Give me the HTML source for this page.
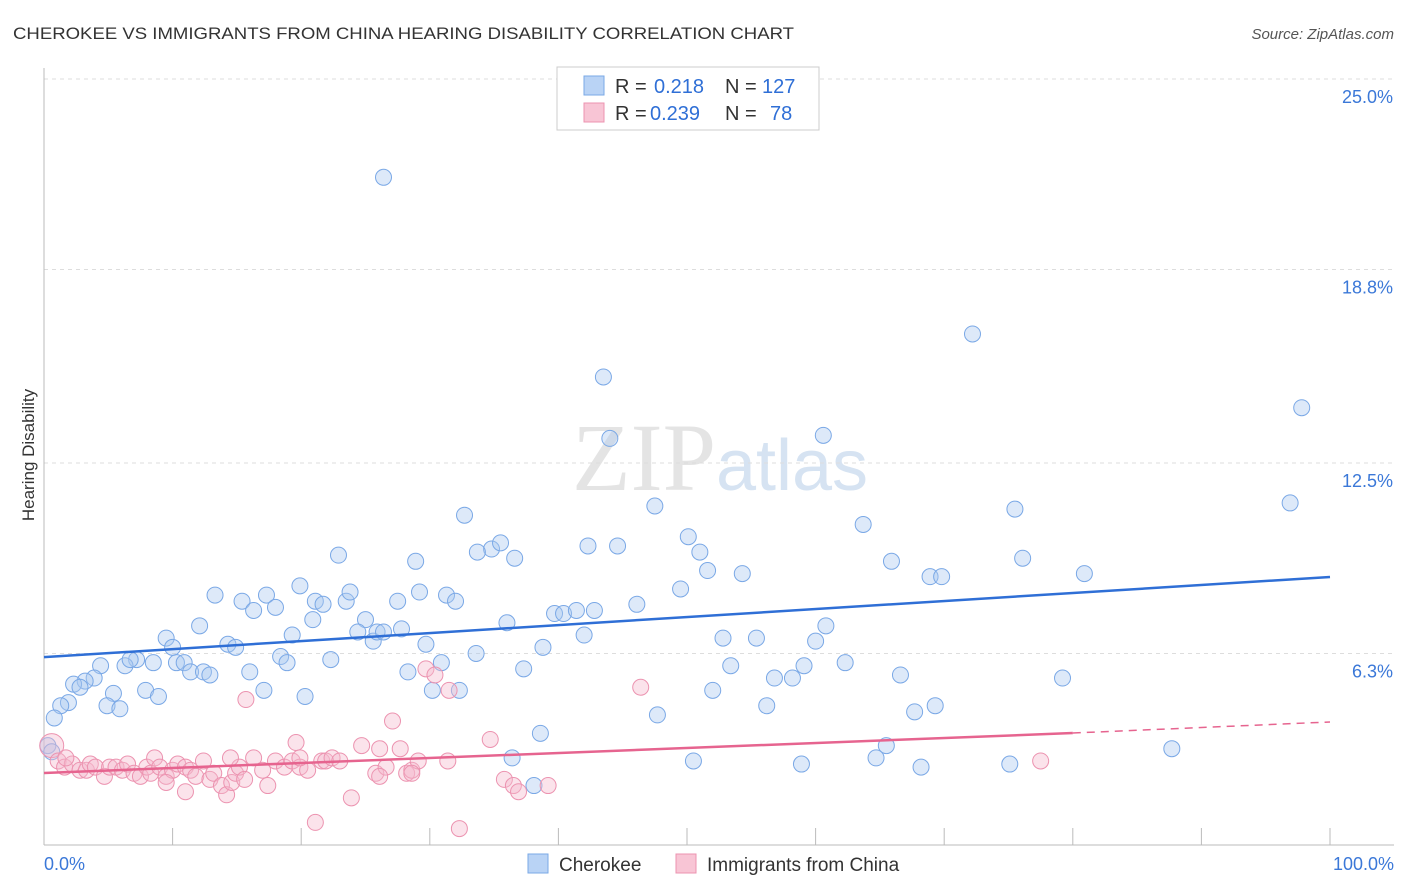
<!DOCTYPE html>
<html><head><meta charset="utf-8"><style>
body{margin:0;background:#fff;font-family:"Liberation Sans",sans-serif}
svg{display:block}
</style></head><body>
<svg id="chart" width="1406" height="892" viewBox="0 0 1406 892" xmlns="http://www.w3.org/2000/svg">
<text x="13" y="39" font-size="17" fill="#333" textLength="781" lengthAdjust="spacingAndGlyphs">CHEROKEE VS IMMIGRANTS FROM CHINA HEARING DISABILITY CORRELATION CHART</text>
<text x="1394" y="39" font-size="15" fill="#555" text-anchor="end" font-style="italic">Source: ZipAtlas.com</text>
<text x="720" y="490" font-size="96" fill="#e4e4e4" text-anchor="middle"><tspan font-family="Liberation Serif">ZIP</tspan><tspan fill="#d6e3f2" font-size="72">atlas</tspan></text>
<text transform="translate(34,455) rotate(-90)" font-size="17" fill="#333" text-anchor="middle">Hearing Disability</text>
<g id="grid"></g><g id="axes"></g><g id="pts"></g><g id="trends"></g>
<g>
<rect x="557" y="67" width="262" height="63" fill="#fff" stroke="#ccc"/>
<rect x="584" y="76" width="20" height="19" fill="#b9d3f5" stroke="#7aa8e6"/>
<text y="93" font-size="20" fill="#333"><tspan x="615">R =</tspan><tspan x="654" fill="#2f6fd6">0.218</tspan><tspan x="725">N =</tspan><tspan x="762" fill="#2f6fd6">127</tspan></text>
<rect x="584" y="103" width="20" height="19" fill="#f8c5d5" stroke="#ec93b0"/>
<text y="120" font-size="20" fill="#333"><tspan x="615">R =</tspan><tspan x="650" fill="#2f6fd6">0.239</tspan><tspan x="725">N =</tspan><tspan x="770" fill="#2f6fd6">78</tspan></text>
</g>
<g>
<rect x="528" y="854" width="20" height="19" fill="#b9d3f5" stroke="#7aa8e6"/>
<text x="559" y="871" font-size="19" fill="#333">Cherokee</text>
<rect x="676" y="854" width="20" height="19" fill="#f8c5d5" stroke="#ec93b0"/>
<text x="707" y="871" font-size="19" fill="#333">Immigrants from China</text>
</g>
</svg>
<script>
const yTicks=[25.0,18.8,12.5,6.3];
const yTickLabels=["25.0%","18.8%","12.5%","6.3%"];
const xTickLabels=["0.0%","100.0%"];
const blueX=[26.4,43.5,72.2,97.8,44,60.6,32.7,47.5,75.5,96.9,63.7,50.1,51,42.3,44.6,34.8,35.5,36.6,33.7,22.9,28.9,51.6,54.3,65.9,68.9,69.8,76.1,80.9,19.9,13.3,15.4,17.3,18,16.3,21.1,21.7,23.5,23.8,27.5,29.2,31.3,32,49.5,46.1,39.7,40.4,41.4,42.8,36,25,12.1,9.5,14.3,14.9,19.3,20.9,24.4,25.6,25.9,26.4,27.8,29.7,42,52.8,55.4,60,60.8,38.8,33.6,30.9,22.3,18.4,18.9,16,10.3,10,10.9,11.4,12.4,12.9,8.5,7.2,6.3,4.4,6.7,3.9,3.2,2.3,2.8,5.4,1.9,1.3,4.9,5.9,0.8,7.9,8.9,17.1,20.3,28.3,30.2,32.3,37.3,53.4,59.1,62.3,66.6,56.8,58.2,52,79.2,56.2,47.7,67.7,69.3,38.6,36.4,38.1,50.5,58.9,64.7,65.5,68.2,75.1,87.7,0.3,0.6];
const blueY=[21.8,15.3,16.7,14.3,13.3,13.4,10.8,11.1,11,11.2,10.5,10.1,9.6,9.8,9.8,9.7,9.9,9.4,9.6,9.5,9.3,9,8.9,9.3,8.8,8.8,9.4,8.9,8.5,8.2,8.0,8.2,7.8,7.7,8.0,7.9,8.0,8.3,8.0,8.3,8.2,8.0,8.4,7.9,7.6,7.6,7.7,7.7,7.3,7.4,7.2,6.8,6.6,6.5,6.9,7.4,7.0,6.7,7.0,7.0,7.1,6.6,6.9,6.8,6.8,6.7,7.2,6.5,6.3,6.0,6.1,6.2,6.0,5.7,6.0,6.5,6.0,5.7,5.7,5.6,6.0,6.1,5.9,5.9,6.1,5.5,5.4,5.3,5.2,5.0,4.7,4.6,4.6,4.5,4.2,5.1,4.9,5.1,4.9,5.7,5.1,5.1,5.8,5.9,5.9,6.0,5.6,5.5,5.5,5.1,5.5,4.6,4.3,4.4,4.6,3.7,2.9,2.0,2.8,2.7,2.9,3.3,2.6,2.7,3.2,3.3,3.1];
const pinkX=[0.6,1.1,1.6,2.2,2.8,3.3,3.6,4.0,4.7,5.1,5.6,6.1,6.5,7.0,7.5,8.0,8.3,8.6,9.0,9.5,10.0,10.4,11.0,11.4,11.0,11.8,12.4,12.9,13.2,13.8,14.2,14.6,14.9,15.2,15.7,16.3,17.0,17.4,18.0,18.7,19.3,19.6,19.9,20.5,21.1,21.6,21.9,22.4,23.0,23.9,24.7,25.8,26.1,26.6,27.1,27.7,28.2,28.6,29.1,29.7,30.4,31.4,31.5,32.3,34.7,35.8,36.5,36.9,39.2,46.4,77.5,19.9,14.5,9.5,1.7,28.6,15.6,26.1];
const pinkY=[3.3,2.8,2.6,2.7,2.5,2.5,2.7,2.6,2.3,2.6,2.6,2.5,2.7,2.4,2.3,2.6,2.4,2.9,2.6,2.3,2.5,2.7,2.6,2.5,1.8,2.3,2.8,2.2,2.4,2.0,1.7,2.1,2.4,2.6,4.8,2.9,2.5,2.0,2.8,2.6,2.8,3.4,2.6,2.5,0.8,2.8,2.8,2.9,2.8,1.6,3.3,2.4,3.2,2.6,4.1,3.2,2.4,2.5,2.8,5.8,5.6,2.8,5.1,0.6,3.5,2.2,2.0,1.8,2.0,5.2,2.8,2.9,2.9,2.1,2.9,2.4,2.2,2.3];
const blueTrend=[6.18,8.79];
const pinkTrend=[2.41,3.71,4.07];
const NS="http://www.w3.org/2000/svg";
const X0=44,X1=1330,Y0=847,PX=30.72;
function sx(v){return X0+(X1-X0)*v/100;}
function sy(v){return Y0-v*PX;}
function mk(tag,attrs,parent){const e=document.createElementNS(NS,tag);for(const k in attrs)e.setAttribute(k,attrs[k]);parent.appendChild(e);return e;}
const grid=document.getElementById('grid'),axes=document.getElementById('axes'),pts=document.getElementById('pts'),tr=document.getElementById('trends');
yTicks.forEach((t,i)=>{
 const l=mk('line',{x1:44,x2:1394,y1:sy(t),y2:sy(t),stroke:'#ddd','stroke-dasharray':'4,4'},grid);
 
 
 const tx=mk('text',{x:1393,y:sy(t)+24,'font-size':18,fill:'#3b78d8','text-anchor':'end'},axes);
 tx.textContent=yTickLabels[i];
 
 
});
const ax=mk('line',{x1:44,x2:1394,y1:845,y2:845,stroke:'#bbb'},axes);


const ay=mk('line',{x1:44,x2:44,y1:68,y2:845,stroke:'#bbb'},axes);


for(let i=0;i<=10;i++){
 const t=mk('line',{x1:sx(i*10),x2:sx(i*10),y1:828,y2:845,stroke:'#bbb'},axes);
 
 
}
[[0,'start',44],[100,'end',1394]].forEach((d,i)=>{
 const t=mk('text',{x:d[2],y:870,'font-size':18,fill:'#3b78d8','text-anchor':d[1]},axes);
 t.textContent=xTickLabels[i];
 
 
});
blueX.forEach((x,i)=>{
 const c=mk('circle',{cx:sx(x),cy:sy(blueY[i]),r:8,fill:'rgba(170,200,240,0.4)',stroke:'#7aa8e6','stroke-width':1},pts);
 
 
});
pinkX.forEach((x,i)=>{
 const c=mk('circle',{cx:sx(x),cy:sy(pinkY[i]),r:i===0?12:8,fill:'rgba(245,185,205,0.4)',stroke:'#ec93b0','stroke-width':1},pts);
 
 
});
const bt=mk('line',{x1:sx(0),y1:sy(blueTrend[0]),x2:sx(100),y2:sy(blueTrend[1]),stroke:'#2f6fd6','stroke-width':2.5},tr);


const pt=mk('line',{x1:sx(0),y1:sy(pinkTrend[0]),x2:sx(80),y2:sy(pinkTrend[1]),stroke:'#e6648f','stroke-width':2.5},tr);


const pd=mk('line',{x1:sx(80),y1:sy(pinkTrend[1]),x2:sx(100),y2:sy(pinkTrend[2]),stroke:'#e6648f','stroke-width':1.5,'stroke-dasharray':'8,6'},tr);


</script>
</body></html>
